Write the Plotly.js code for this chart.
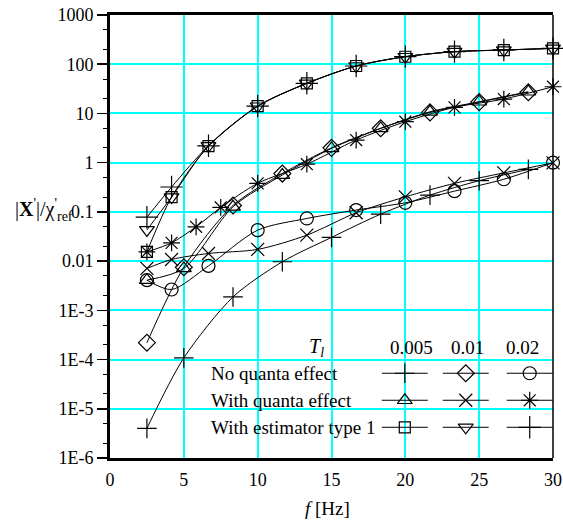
<!DOCTYPE html>
<html>
<head>
<meta charset="utf-8">
<script src="https://cdn.plot.ly/plotly-3.0.1.min.js"></script>
<style>html,body{margin:0;padding:0;background:#fff;}#plot{width:563px;height:526px;}</style>
</head>
<body>
<div id="plot"></div>
<script>
// ---- data ----
var fA = [2.5, 4.17, 6.67, 10, 13.33, 16.67, 20, 23.33, 26.67, 30];          // estimator / T=0.01-type grid
var fB = [2.5, 5, 8.33, 11.67, 15, 18.33, 21.67, 25, 28.33];                  // T=0.005-type grid
var fC = [2.5, 4.17, 5.83, 7.5, 10, 13.33, 16.67, 20, 23.33, 26.67, 30];      // T=0.02 quanta grid

var noQ005 = [4e-6, 1.08e-4, 1.87e-3, 0.0097, 0.0303, 0.09, 0.219, 0.43, 0.73];
var noQ01  = [2.2e-4, 0.0075, 0.135, 0.6, 2.0, 5.0, 10.5, 17, 27];
var noQ02  = [0.0041, 0.00265, 0.0080, 0.0426, 0.0735, 0.109, 0.153, 0.264, 0.46, 1.0];

var q005 = [0.0041, 0.0071, 0.127, 0.56, 1.95, 4.97, 10.8, 17.3, 27.6];
var q01  = [0.0071, 0.0108, 0.0143, 0.0173, 0.0337, 0.096, 0.202, 0.38, 0.62, 0.99];
var q02  = [0.0154, 0.0235, 0.0497, 0.123, 0.38, 0.93, 2.88, 6.8, 13.3, 19.6, 34.9];

var est005 = [0.0154, 0.2, 2.17, 14.1, 40.8, 92, 142, 180, 194, 210];
var est01  = [0.043, 0.2, 2.2, 14.0, 41, 92, 142, 180, 194, 210];
var est02  = [0.078, 0.32, 2.2, 14.1, 41, 92, 143, 180, 195, 210];

var yTickVals = [1000, 100, 10, 1, 0.1, 0.01, 1e-3, 1e-4, 1e-5, 1e-6];
var yTickText = ['1000', '100', '10', '1', '0.1', '0.01', '1E-3', '1E-4', '1E-5', '1E-6'];
var xTickVals = [0, 5, 10, 15, 20, 25, 30];

var rowLabels = ['No quanta effect', 'With quanta effect', 'With estimator type 1'];
var colLabels = ['0.005', '0.01', '0.02'];

// ---- styling ----
var FONT = 'Liberation Serif';
var BLACK = '#000';
var CYAN = '#00ffff';
var symbols = [
  ['cross-thin-open', 'diamond-open', 'circle-open'],
  ['triangle-up-open', 'x-thin-open', 'asterisk-open'],
  ['square-open', 'triangle-down-open', 'cross-thin-open']
];
var sizes = [
  [14, 13, 13],
  [13, 13, 14],
  [11, 13, 16]
];

var series = [
  [[fB, noQ005], [fB, noQ01], [fA, noQ02]],
  [[fB, q005], [fA, q01], [fC, q02]],
  [[fA, est005], [fA, est01], [fA, est02]]
];

var traces = [];
for (var r = 0; r < 3; r++) {
  for (var c = 0; c < 3; c++) {
    traces.push({
      x: series[r][c][0], y: series[r][c][1],
      type: 'scatter', mode: 'lines+markers',
      line: {color: BLACK, width: 1, shape: 'spline', smoothing: 0.8},
      marker: {symbol: symbols[r][c], size: sizes[r][c], color: BLACK, line: {color: BLACK, width: 1.2}},
      cliponaxis: false,
      showlegend: false, hoverinfo: 'skip'
    });
  }
}

// ---- custom legend table (on a pixel-unit overlay axis) ----
var PL = 110, PR = 553.3, PT = 15, PB = 457.7;
var colCenters = [405, 466, 530];
var segHalf = 23;
var rowY = [373, 400, 427];
var headerY = 347;
var LFS = 19;

var annotations = [];
for (var r2 = 0; r2 < 3; r2++) {
  annotations.push({xref: 'x2', yref: 'y2', x: 209, y: rowY[r2], text: rowLabels[r2],
    showarrow: false, xanchor: 'left', yanchor: 'middle', font: {family: FONT, size: LFS, color: BLACK}});
  for (var c2 = 0; c2 < 3; c2++) {
    traces.push({
      x: [colCenters[c2] - segHalf, colCenters[c2] + segHalf], y: [rowY[r2], rowY[r2]],
      xaxis: 'x2', yaxis: 'y2', type: 'scatter', mode: 'lines',
      line: {color: BLACK, width: 1}, showlegend: false, hoverinfo: 'skip', cliponaxis: false
    });
    traces.push({
      x: [colCenters[c2]], y: [rowY[r2]],
      xaxis: 'x2', yaxis: 'y2', type: 'scatter', mode: 'markers',
      marker: {symbol: symbols[r2][c2], size: sizes[r2][c2], color: BLACK, line: {color: BLACK, width: 1.2}},
      showlegend: false, hoverinfo: 'skip', cliponaxis: false
    });
  }
}
var headerX = [412, 468, 523];
for (var h = 0; h < 3; h++) {
  annotations.push({xref: 'x2', yref: 'y2', x: headerX[h], y: headerY, text: colLabels[h],
    showarrow: false, xanchor: 'center', yanchor: 'middle', font: {family: FONT, size: LFS, color: BLACK}});
}
annotations.push({xref: 'x2', yref: 'y2', x: 317, y: headerY, text: '<i>T</i><sub><i>l</i></sub>',
  showarrow: false, xanchor: 'center', yanchor: 'middle', font: {family: FONT, size: 20, color: BLACK}});

// axis titles
annotations.push({xref: 'paper', yref: 'paper', x: (75 - PL) / (PR - PL), y: (PB - 210) / (PB - PT),
  text: '|<b>X</b><sup>\'</sup>|/χ<sup>\'</sup><sub>ref</sub>', showarrow: false,
  xanchor: 'right', yanchor: 'middle', font: {family: FONT, size: 20, color: BLACK}});
annotations.push({xref: 'paper', yref: 'paper', x: (328 - PL) / (PR - PL), y: (PB - 508) / (PB - PT),
  text: '<i>f</i> [Hz]', showarrow: false,
  xanchor: 'center', yanchor: 'middle', font: {family: FONT, size: 19, color: BLACK}});

var layout = {
  width: 563, height: 526,
  margin: {l: PL, r: 563 - PR, t: PT, b: 526 - PB, pad: 0},
  paper_bgcolor: '#fff', plot_bgcolor: '#fff',
  font: {family: FONT, size: 18, color: BLACK},
  showlegend: false,
  xaxis: {
    range: [0, 30], tickvals: xTickVals, ticks: '', showgrid: true, gridcolor: CYAN, gridwidth: 2,
    zeroline: false, showline: true, linecolor: BLACK, linewidth: 3, mirror: true,
    tickfont: {family: FONT, size: 18, color: BLACK}, ticklabelstandoff: 3
  },
  yaxis: {
    type: 'log', range: [-6, 3], tickvals: yTickVals, ticktext: yTickText,
    ticks: 'outside', ticklen: 10, tickwidth: 1.5, tickcolor: BLACK,
    showgrid: true, gridcolor: CYAN, gridwidth: 2,
    minor: {ticks: 'outside', ticklen: 4, tickwidth: 1, tickcolor: BLACK, showgrid: false},
    zeroline: false, showline: true, linecolor: BLACK, linewidth: 3, mirror: false,
    tickfont: {family: FONT, size: 18, color: BLACK}
  },
  xaxis2: {overlaying: 'x', anchor: 'y2', range: [PL, PR], visible: false, showgrid: false, zeroline: false, showline: false, ticks: '', showticklabels: false, fixedrange: true},
  yaxis2: {overlaying: 'y', anchor: 'x2', range: [PB, PT], visible: false, showgrid: false, zeroline: false, showline: false, ticks: '', showticklabels: false, fixedrange: true},
  shapes: [{type: 'line', xref: 'paper', yref: 'paper', x0: 1, x1: 1, y0: 0, y1: 1, line: {color: BLACK, width: 1.5}}],
  annotations: annotations
};

Plotly.newPlot('plot', traces, layout, {staticPlot: true, displayModeBar: false});
</script>
</body>
</html>
